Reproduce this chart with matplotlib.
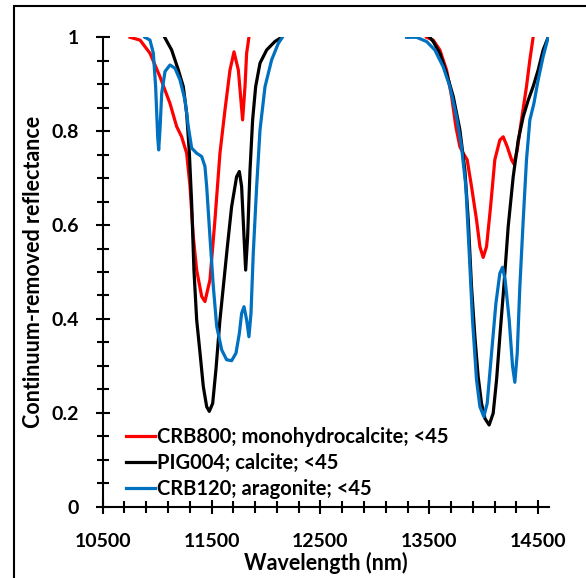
import matplotlib.pyplot as plt
from matplotlib.patches import Rectangle
from matplotlib.ticker import MultipleLocator

nan = float("nan")

# wavelength (nm) and continuum-removed reflectance, two bands per sample
crb800_wl = [10751, 10843, 10934, 11026, 11118, 11179, 11225, 11271, 11302, 11332,
             11363, 11409, 11439, 11485, 11531, 11577, 11623, 11669, 11706, 11746,
             11785, 11807, 11822, 11843, nan,
             13475, 13536, 13597, 13659, 13705, 13744, 13781, 13812, 13848, 13888,
             13934, 13965, 13995, 14026, 14063, 14102, 14148, 14179, 14216, 14256,
             14277, 14308, 14347, 14393, 14424, 14454]
crb800_r = [1.0, 0.994, 0.966, 0.916, 0.859, 0.810, 0.788, 0.753, 0.682, 0.575,
            0.504, 0.448, 0.437, 0.483, 0.611, 0.753, 0.845, 0.930, 0.969, 0.930,
            0.824, 0.895, 0.966, 1.0, nan,
            1.0, 0.994, 0.973, 0.930, 0.874, 0.810, 0.767, 0.753, 0.739, 0.682,
            0.611, 0.554, 0.531, 0.554, 0.639, 0.739, 0.781, 0.788, 0.767, 0.739,
            0.730, 0.760, 0.824, 0.895, 0.952, 1.0]

pig004_wl = [10888, 10950, 11057, 11133, 11195, 11240, 11271, 11296, 11317, 11338,
             11363, 11394, 11424, 11455, 11479, 11510, 11540, 11577, 11608, 11645,
             11684, 11730, 11755, 11776, 11798, 11813, 11831, 11853, 11877, 11905,
             11945, 12006, 12082, 12143, nan,
             13307, 13352, 13475, 13536, 13597, 13659, 13720, 13781, 13827, 13858,
             13888, 13919, 13949, 13980, 14011, 14050, 14087, 14118, 14148, 14185,
             14225, 14271, 14317, 14363, 14409, 14454, 14500, 14546, 14592]
pig004_r = [1.001, 1.010, 1.005, 0.973, 0.930, 0.895, 0.838, 0.753, 0.646, 0.504,
            0.398, 0.327, 0.256, 0.213, 0.203, 0.220, 0.292, 0.398, 0.469, 0.554,
            0.639, 0.703, 0.714, 0.682, 0.575, 0.504, 0.575, 0.717, 0.824, 0.895,
            0.945, 0.973, 0.991, 1.0, nan,
            1.001, 1.008, 1.008, 0.991, 0.966, 0.923, 0.874, 0.803, 0.717, 0.611,
            0.469, 0.362, 0.277, 0.220, 0.188, 0.174, 0.199, 0.270, 0.362, 0.469,
            0.597, 0.703, 0.781, 0.831, 0.866, 0.895, 0.930, 0.973, 1.0]

crb120_wl = [10888, 10934, 10965, 10986, 11005, 11014, 11026, 11042, 11072, 11118,
             11164, 11210, 11256, 11286, 11317, 11363, 11409, 11439, 11455, 11485,
             11516, 11547, 11593, 11638, 11684, 11724, 11755, 11776, 11798, 11822,
             11843, 11862, 11883, 11914, 11945, 11991, 12052, 12113, 12150, nan,
             13291, 13383, 13475, 13551, 13628, 13689, 13750, 13796, 13836, 13867,
             13897, 13934, 13965, 14001, 14032, 14072, 14112, 14148, 14173, 14197,
             14234, 14265, 14286, 14308, 14332, 14363, 14393, 14424, 14461, 14500,
             14546, 14592]
crb120_r = [1.0, 0.994, 0.966, 0.895, 0.788, 0.760, 0.803, 0.881, 0.927, 0.941,
            0.934, 0.909, 0.866, 0.810, 0.764, 0.753, 0.746, 0.725, 0.682, 0.575,
            0.469, 0.384, 0.334, 0.313, 0.311, 0.327, 0.369, 0.412, 0.426, 0.398,
            0.362, 0.412, 0.540, 0.682, 0.803, 0.895, 0.952, 0.987, 1.0, nan,
            1.0, 1.0, 0.991, 0.973, 0.937, 0.895, 0.831, 0.767, 0.682, 0.540,
            0.398, 0.270, 0.213, 0.192, 0.220, 0.327, 0.433, 0.497, 0.510, 0.483,
            0.398, 0.299, 0.265, 0.327, 0.469, 0.611, 0.739, 0.824, 0.859, 0.909,
            0.959, 1.0]

plt.rcParams['font.family'] = ['Lato', 'DejaVu Sans']
plt.rcParams['font.weight'] = 'bold'

fig = plt.figure(figsize=(5.86, 5.78), dpi=100)
ax = fig.add_axes([0.1753, 0.1234, 0.9369 - 0.1753, 0.9355 - 0.1234])

ax.plot(crb800_wl, crb800_r, color='#FF0000', lw=2.3, label='CRB800; monohydrocalcite; <45')
ax.plot(pig004_wl, pig004_r, color='black', lw=2.3, label='PIG004; calcite; <45')
ax.plot(crb120_wl, crb120_r, color='#0070C0', lw=2.3, label='CRB120; aragonite; <45')

ax.set_xlim(10500, 14600)
ax.set_ylim(0, 1)
ax.xaxis.set_major_locator(MultipleLocator(1000, offset=500))
ax.xaxis.set_minor_locator(MultipleLocator(200, offset=100))
ax.yaxis.set_major_locator(MultipleLocator(0.2))
ax.yaxis.set_minor_locator(MultipleLocator(0.05))
ax.yaxis.set_major_formatter(plt.FuncFormatter(lambda v, p: '%g' % round(v, 2)))

for s in ['top', 'right']:
    ax.spines[s].set_visible(False)
for s in ['left', 'bottom']:
    ax.spines[s].set_linewidth(1.5)

ax.tick_params(which='major', direction='inout', length=10.5, width=1.5, labelsize=14)
ax.tick_params(which='minor', direction='inout', length=8, width=1.5)
ax.tick_params(axis='x', which='major', pad=14)
ax.tick_params(axis='y', which='major', pad=12)
for lab in ax.get_xticklabels() + ax.get_yticklabels():
    lab.set_fontweight('bold')

ax.set_xlabel('Wavelength (nm)', fontsize=15.5, fontweight='bold', labelpad=1)
ax.set_ylabel('Continuum-removed reflectance', fontsize=15.5, fontweight='bold', labelpad=5)

leg = ax.legend(loc='lower left', bbox_to_anchor=(0.035, 0.0), frameon=False,
                fontsize=14.5, handlelength=1.4, handletextpad=0.1, labelspacing=0.28,
                borderaxespad=0.0)
for t in leg.get_texts():
    t.set_fontweight('bold')

# outer chart border
fig.patches.append(Rectangle((14 / 586, -0.05), 1.1, 1 - 6 / 578 + 0.05, fill=False,
                             lw=1.5, ec='black', transform=fig.transFigure))

fig.savefig('out.png', dpi=100)
